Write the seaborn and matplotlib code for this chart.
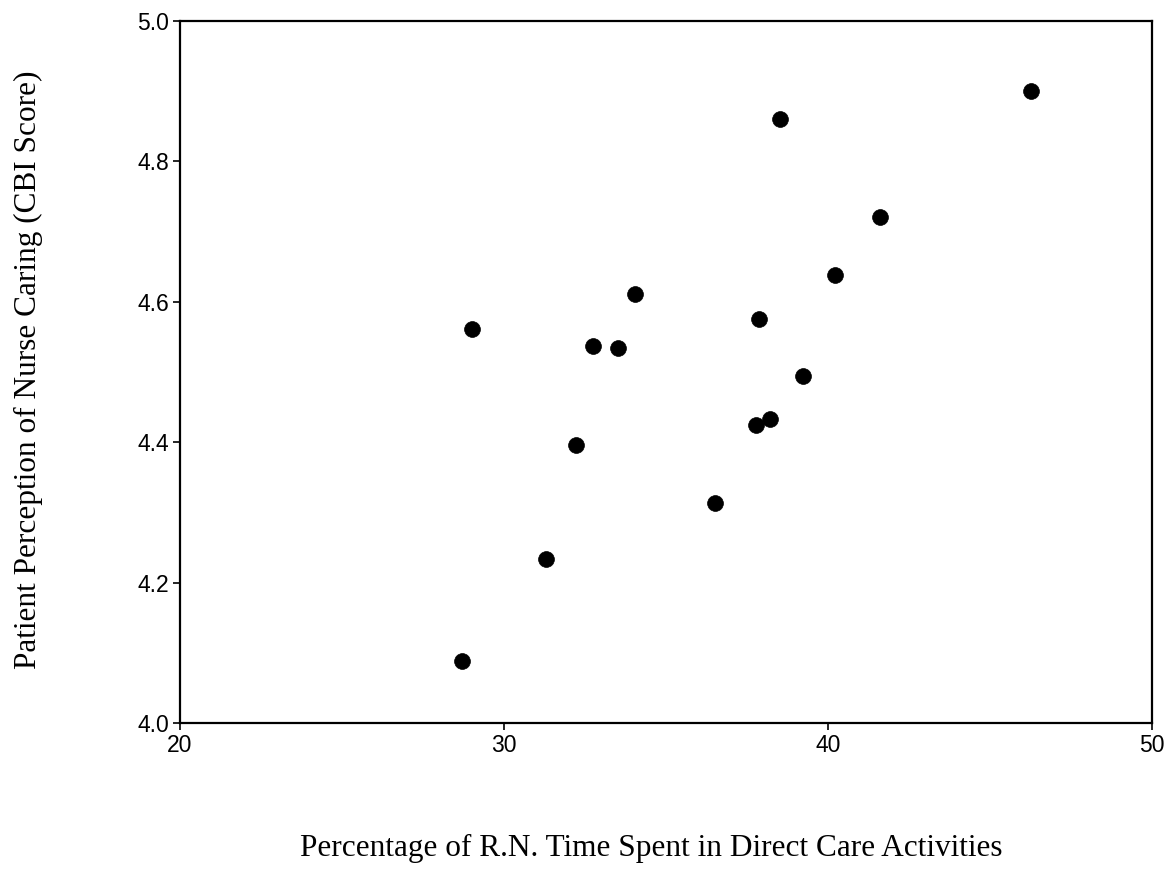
import matplotlib
matplotlib.use("Agg")
import matplotlib.pyplot as plt
import seaborn as sns
import pandas as pd

# Data
rn_time_pct = [28.70, 29.00, 31.30, 32.22, 32.75, 33.52, 34.04, 36.51,
               37.78, 37.87, 38.21, 38.52, 39.23, 40.22, 41.60, 46.27]
cbi_score = [4.088, 4.561, 4.234, 4.396, 4.537, 4.534, 4.611, 4.313,
             4.425, 4.575, 4.433, 4.860, 4.494, 4.638, 4.721, 4.900]
x_ticks = [20, 30, 40, 50]
y_ticks = [4.0, 4.2, 4.4, 4.6, 4.8, 5.0]
x_label = "Percentage of R.N. Time Spent in Direct Care Activities"
y_label = "Patient Perception of Nurse Caring (CBI Score)"

df = pd.DataFrame({"x": rn_time_pct, "y": cbi_score})

sns.set_style("ticks")
plt.rcParams["font.family"] = ["Liberation Sans", "DejaVu Sans"]
plt.rcParams["text.color"] = "black"

fig = plt.figure(figsize=(11.72, 8.72), dpi=100)
ax = fig.add_axes([180 / 1172, 1 - 723 / 872, (1152 - 180) / 1172, (723 - 21) / 872])

sns.scatterplot(data=df, x="x", y="y", ax=ax, color="black", s=130,
                edgecolor="black", linewidth=0.5, legend=False)

ax.set_xlim(20, 50)
ax.set_ylim(4.0, 5.0)
ax.set_xticks(x_ticks)
ax.set_yticks(y_ticks)
ax.set_xticklabels([str(v) for v in x_ticks])
ax.set_yticklabels([f"{v:.1f}" for v in y_ticks])
ax.tick_params(axis="both", direction="out", length=5, width=1.2,
               labelsize=16.5, colors="black", pad=3)

for sp in ax.spines.values():
    sp.set_visible(True)
    sp.set_linewidth(1.6)
    sp.set_color("black")

ax.set_xlabel("")
ax.set_ylabel("")
fig.text(651 / 1172, 1 - 856 / 872, x_label, ha="center", va="baseline",
         fontsize=22.5, color="black", family=["Liberation Serif", "DejaVu Serif"])
fig.text(28 / 1172, 1 - 370 / 872, y_label, ha="center", va="center",
         rotation=90, fontsize=22.5, color="black",
         family=["Liberation Serif", "DejaVu Serif"])

fig.savefig("out.png", dpi=100, facecolor="white")
